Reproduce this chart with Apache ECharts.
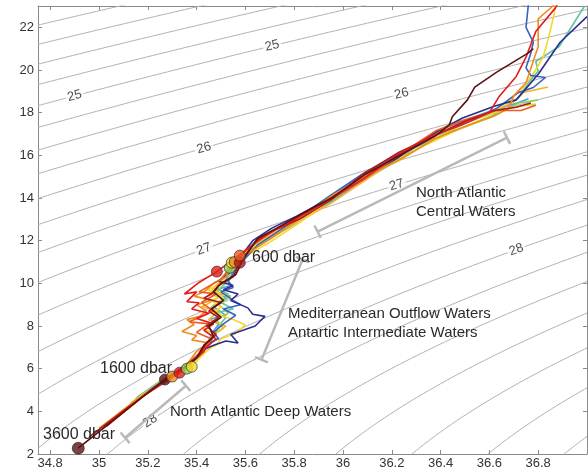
<!DOCTYPE html>
<html>
<head>
<meta charset="utf-8">
<script src="https://cdn.jsdelivr.net/npm/echarts@6/dist/echarts.min.js"></script>
<style>
  html, body { margin: 0; padding: 0; background: #fff; }
  #chart { width: 588px; height: 473px; }
</style>
</head>
<body>
<div id="chart"></div>
<script>
// axis ticks
const xTicks = [34.8, 35, 35.2, 35.4, 35.6, 35.8, 36, 36.2, 36.4, 36.6, 36.8];
const yTicks = [2, 4, 6, 8, 10, 12, 14, 16, 18, 20, 22];

// density contour levels (sigma-theta, kg/m3 - 1000)
const sigmaLevels = [24, 24.25, 24.5, 24.75, 25, 25.25, 25.5, 25.75, 26, 26.25, 26.5, 26.75,
  27, 27.25, 27.5, 27.75, 28, 28.25, 28.5, 28.75, 29, 29.25, 29.5, 29.75];
// labelled contours: [level, salinity where the label sits]
const contourLabels = [[25, 34.90], [25, 35.71], [26, 35.43], [26, 36.24],
  [27, 35.43], [27, 36.22], [28, 35.21], [28, 36.71]];

// profiles: [salinity, potential temperature], deep -> surface
const navy = [[35.02,3.3],[35.14,4.4],[35.25,5.3],[35.33,5.85],[35.39,6.4],[35.43,6.9],[35.47,7.1],[35.52,7.3],[35.57,7.2],[35.54,7.6],[35.59,7.8],[35.64,8.0],[35.68,8.45],[35.63,8.55],[35.61,8.85],[35.54,9.2],[35.57,9.5],[35.51,9.7],[35.55,9.9],[35.49,10.1],[35.53,10.45],[35.57,11.1],
  [35.63,12.0],[35.71,12.6],[35.81,13.15],[35.94,13.95],[36.07,14.85],[36.22,15.85],[36.36,16.95],[36.49,17.75],[36.62,18.3],
  [36.71,18.6],[36.80,19.8],[36.89,21.3],[37.0,22.5]];
const blue = [[35.12,4.2],[35.22,5.1],[35.31,5.8],[35.37,6.3],[35.42,6.8],[35.45,7.2],[35.49,7.4],[35.47,7.7],[35.51,8.1],[35.56,8.5],[35.51,8.8],[35.58,9.0],[35.55,9.2],[35.50,9.6],[35.55,9.8],[35.53,10.1],[35.57,10.8],
  [35.65,11.8],[35.73,12.4],[35.83,13.2],[35.96,14.2],[36.09,15.2],[36.24,16.15],[36.38,16.95],[36.51,17.55],[36.63,18.2],
  [36.72,18.95],[36.78,19.18],[36.83,19.65],[36.77,19.74],[36.75,20.1],[36.77,20.8],[36.78,21.3],[36.75,22.0],[36.76,23.1]];
const lightBlue = [[35.15,4.6],[35.26,5.5],[35.34,6.0],[35.40,6.5],[35.44,7.0],[35.46,7.6],[35.49,8.1],[35.45,8.3],[35.52,8.5],[35.47,8.9],[35.52,9.3],[35.48,9.7],[35.54,9.9],[35.52,10.2],[35.56,10.9],
  [35.64,11.95],[35.72,12.5],[35.82,13.0],[35.95,13.8],[36.08,14.8],[36.23,15.8],[36.37,17.05],[36.50,17.65],[36.62,18.15],
  [36.70,18.4],[36.76,18.65]];
const mint = [[35.16,4.7],[35.27,5.5],[35.35,6.0],[35.41,6.6],[35.45,7.1],[35.47,7.5],[35.49,8.0],[35.52,8.4],[35.47,8.6],[35.55,8.8],[35.50,9.1],[35.53,9.5],[35.49,9.7],[35.51,9.9],[35.54,10.3],[35.55,10.8],
  [35.63,11.6],[35.71,12.15],[35.81,12.95],[35.94,14.05],[36.07,15.05],[36.22,15.95],[36.36,16.7],[36.49,17.3],[36.61,17.85],
  [36.72,18.72],[36.77,19.56],[36.80,19.94],[36.79,20.4],[36.886,21.1],[36.99,23.0]];
const green = [[35.10,4.0],[35.24,5.3],[35.36,6.0],[35.41,6.6],[35.45,7.1],[35.46,7.5],[35.51,7.9],[35.48,8.3],[35.53,8.6],[35.49,9.0],[35.54,9.4],[35.47,9.6],[35.50,9.8],[35.53,10.2],[35.536,10.73],
  [35.62,11.55],[35.70,12.1],[35.80,12.75],[35.93,13.7],[36.06,14.8],[36.21,15.95],[36.35,16.85],[36.48,17.25],[36.61,17.8],
  [36.72,18.45],[36.80,18.6]];
const yellowGreen = [[35.13,4.4],[35.25,5.4],[35.34,5.95],[35.40,6.5],[35.43,7.0],[35.44,7.2],[35.48,7.6],[35.42,7.9],[35.46,8.1],[35.50,8.5],[35.46,8.9],[35.51,9.3],[35.45,9.5],[35.47,9.8],[35.51,10.2],[35.55,10.9],
  [35.64,11.8],[35.72,12.35],[35.82,13.1],[35.95,14.1],[36.08,14.95],[36.23,15.75],[36.37,16.75],[36.50,17.5],[36.62,18.0],
  [36.72,18.3],[36.79,18.4]];
const yellow = [[35.08,3.9],[35.22,5.1],[35.33,5.8],[35.38,6.09],[35.42,6.6],[35.46,7.0],[35.48,7.1],[35.50,7.4],[35.56,7.65],[35.60,8.05],[35.55,8.3],[35.47,8.6],[35.50,8.9],[35.46,9.2],[35.52,9.5],[35.44,9.7],[35.49,9.9],[35.52,10.3],[35.544,10.97],
  [35.63,11.45],[35.71,12.0],[35.81,12.75],[35.94,13.85],[36.07,14.9],[36.22,15.8],[36.36,16.6],[36.49,17.3],[36.60,17.8],
  [36.68,18.6],[36.74,19.2],[36.79,20.0],[36.82,20.6],[36.84,21.4],[36.865,22.6],[36.875,23.2]];
const gold = [[35.05,3.5],[35.20,4.9],[35.31,5.7],[35.37,6.2],[35.41,6.7],[35.44,7.2],[35.47,7.6],[35.52,8.0],[35.45,8.3],[35.49,8.7],[35.42,8.9],[35.44,9.0],[35.50,9.4],[35.47,9.8],[35.51,10.2],[35.54,10.9],
  [35.64,11.85],[35.72,12.4],[35.82,12.9],[35.95,13.75],[36.08,14.75],[36.23,15.9],[36.37,17.0],[36.50,17.55],[36.62,18.1],
  [36.70,18.5],[36.74,18.95],[36.84,19.2]];
const orange = [[35.00,3.2],[35.16,4.6],[35.30,5.63],[35.36,6.2],[35.40,6.8],[35.45,7.2],[35.38,7.35],[35.40,7.55],[35.34,7.74],[35.39,8.07],[35.36,8.3],[35.41,8.44],[35.44,8.7],[35.40,9.0],[35.46,9.2],[35.39,9.4],[35.43,9.6],[35.47,10.0],[35.52,10.3],[35.556,11.0],
  [35.65,11.7],[35.73,12.3],[35.83,13.1],[35.96,14.15],[36.09,15.0],[36.24,15.85],[36.38,16.8],[36.51,17.4],[36.62,17.85],
  [36.68,18.2],[36.70,18.8],[36.75,19.4],[36.80,21.1],[36.80,22.4],[36.86,23.0],[36.88,23.3]];
const orangeRed = [[35.04,3.4],[35.19,4.8],[35.31,5.75],[35.38,6.4],[35.43,6.9],[35.46,7.4],[35.40,7.7],[35.45,8.1],[35.37,8.2],[35.41,8.4],[35.47,8.7],[35.42,9.1],[35.48,9.5],[35.41,9.6],[35.44,9.8],[35.50,10.2],[35.577,11.3],
  [35.65,12.0],[35.73,12.55],[35.83,13.2],[35.96,14.0],[36.09,14.9],[36.24,16.1],[36.38,17.15],[36.51,17.7],[36.63,18.1],
  [36.73,18.1],[36.79,18.35]];
const red = [[35.03,3.3],[35.18,4.7],[35.33,5.81],[35.39,6.4],[35.43,6.8],[35.44,7.0],[35.48,7.4],[35.43,7.8],[35.47,8.1],[35.40,8.35],[35.45,8.6],[35.38,8.8],[35.41,9.09],[35.36,9.14],[35.40,9.6],[35.35,9.5],[35.41,10.04],[35.483,10.55],
  [35.63,11.8],[35.71,12.45],[35.81,13.05],[35.94,13.9],[36.07,14.8],[36.22,16.0],[36.36,16.9],[36.49,17.45],[36.60,18.0],
  [36.64,18.76],[36.71,19.7],[36.75,20.6],[36.79,21.8],[36.87,22.9],[36.89,23.3]];
const darkRed = [[34.96,2.8],[35.12,4.2],[35.27,5.45],[35.35,6.1],[35.41,6.6],[35.44,7.2],[35.48,7.6],[35.44,8.0],[35.49,8.4],[35.45,8.7],[35.50,9.1],[35.43,9.3],[35.46,9.5],[35.49,9.9],[35.55,10.3],[35.577,10.97],
  [35.64,11.95],[35.72,12.5],[35.82,13.0],[35.95,13.9],[36.08,15.1],[36.23,16.15],[36.37,16.9],[36.50,17.6],[36.62,18.1],
  [36.71,18.25],[36.77,18.45]];
const maroon = [[34.915,2.27],[35.05,3.5],[35.17,4.6],[35.27,5.49],[35.34,6.0],[35.40,6.5],[35.43,7.1],[35.47,7.5],[35.45,8.0],[35.50,8.4],[35.46,8.8],[35.51,9.2],[35.47,9.6],[35.50,10.0],[35.56,10.4],[35.59,11.1],
  [35.65,12.1],[35.73,12.6],[35.83,13.25],[35.96,14.05],[36.09,15.1],[36.24,16.05],[36.375,16.88],
  [36.436,17.43],[36.448,17.81],[36.51,18.6],[36.54,19.2],[36.63,19.9],[36.76,20.8],[36.78,21.0]];

// pressure-level markers: [salinity, temperature], with the profile they belong to
const p600 = [[35.483,10.55],[35.536,10.73],[35.544,10.97],[35.556,11.0],[35.577,10.97],[35.577,11.3]];
const p600Owner = ['red', 'green', 'yellow', 'orange', 'darkRed', 'orangeRed'];
const p1600 = [[35.27,5.49],[35.30,5.63],[35.33,5.81],[35.36,6.0],[35.38,6.09]];
const p1600Owner = ['maroon', 'orange', 'red', 'green', 'yellow'];
const p3600 = [[34.915,2.27]];
const p3600Owner = ['maroon'];

const profiles = { lightBlue, mint, green, yellowGreen, gold, yellow, blue, navy, orange, orangeRed, darkRed, red, maroon };
const colors = {
  navy: '#2b2e8e', blue: '#3a60c4', lightBlue: '#4aa3df', mint: '#63c39f', green: '#8fcf5a',
  yellowGreen: '#c6d936', yellow: '#f6d72a', gold: '#f8b52b', orange: '#f08c1e', orangeRed: '#ec5a24',
  red: '#e31c1c', darkRed: '#b3161b', maroon: '#5c1212'
};

const FONT = 'Liberation Sans, Arial, sans-serif';
const AXIS_GRAY = '#8a8a8a';

// UNESCO EOS-80 density at p = 0, minus 1000
function sigma0(S, T) {
  const rw = 999.842594 + 6.793952e-2 * T - 9.095290e-3 * T * T + 1.001685e-4 * T ** 3
    - 1.120083e-6 * T ** 4 + 6.536332e-9 * T ** 5;
  const A = 8.24493e-1 - 4.0899e-3 * T + 7.6438e-5 * T * T - 8.2467e-7 * T ** 3 + 5.3875e-9 * T ** 4;
  const B = -5.72466e-3 + 1.0227e-4 * T - 1.6546e-6 * T * T;
  const C = 4.8314e-4;
  return rw + A * S + B * S ** 1.5 + C * S * S - 1000;
}

// temperature where sigma0(S, T) == sig (bisection)
function tempAt(sig, S) {
  let lo = -2, hi = 35;
  if (sigma0(S, lo) < sig || sigma0(S, hi) > sig) return null;
  for (let i = 0; i < 50; i++) {
    const mid = (lo + hi) / 2;
    if (sigma0(S, mid) > sig) lo = mid; else hi = mid;
  }
  return (lo + hi) / 2;
}

function contourLine(sig) {
  const pts = [];
  for (let k = 0; k <= 225; k++) {
    const S = 34.75 + k * 0.01;
    const T = tempAt(sig, S);
    if (T !== null) pts.push([S, T]);
  }
  return pts;
}

const series = [];
sigmaLevels.forEach(sig => {
  series.push({
    type: 'line', data: contourLine(sig), showSymbol: false, silent: true, z: 1,
    lineStyle: { color: '#b0b0b0', width: 1 }
  });
});

Object.keys(profiles).forEach(name => {
  series.push({
    name, type: 'line', data: profiles[name], showSymbol: false, z: 3,
    lineStyle: { color: colors[name], width: 1.6 }
  });
});

function markerSeries(vals, owners, size) {
  return {
    type: 'scatter', z: 5, symbol: 'circle', symbolSize: size,
    data: vals.map((v, i) => ({ value: v, itemStyle: { color: colors[owners[i]] } })),
    itemStyle: { borderColor: '#222', borderWidth: 0.8 }
  };
}
series.push(markerSeries(p600, p600Owner, 11));
series.push(markerSeries(p1600, p1600Owner, 11));
series.push(markerSeries(p3600, p3600Owner, 12));

// contour labels (rotation filled in after the first layout)
const labelSeriesIndex = series.length;
series.push({
  type: 'scatter', z: 2, symbolSize: 0, silent: true,
  data: contourLabels.map(([lv, S]) => ({ value: [S, tempAt(lv, S)], lv })),
  label: {
    show: true, position: 'inside', color: '#222', fontSize: 13, fontFamily: FONT,
    backgroundColor: '#fff', padding: [0, 2], formatter: p => String(p.data.lv)
  }
});

function axisCommon(ticks) {
  return {
    type: 'value', splitLine: { show: false },
    axisLine: { show: true, onZero: false, lineStyle: { color: AXIS_GRAY, width: 1 } },
    axisTick: { show: true, inside: true, length: 4, customValues: ticks, lineStyle: { color: AXIS_GRAY } }
  };
}

const option = {
  animation: false,
  backgroundColor: '#fff',
  grid: { left: 38, right: 1, top: 6, bottom: 19, containLabel: false },
  xAxis: [
    Object.assign(axisCommon(xTicks), {
      min: 34.75, max: 37, position: 'bottom',
      axisLabel: { customValues: xTicks, color: '#333', fontSize: 13, fontFamily: FONT, margin: 3 }
    }),
    Object.assign(axisCommon(xTicks), { min: 34.75, max: 37, position: 'top', axisLabel: { show: false } })
  ],
  yAxis: [
    Object.assign(axisCommon(yTicks), {
      min: 2, max: 23, position: 'left',
      axisLabel: { customValues: yTicks, color: '#333', fontSize: 13, fontFamily: FONT, margin: 4 }
    }),
    Object.assign(axisCommon(yTicks), { min: 2, max: 23, position: 'right', axisLabel: { show: false } })
  ],
  series
};

const chart = echarts.init(document.getElementById('chart'));
chart.setOption(option);

const px = p => chart.convertToPixel({ xAxisIndex: 0, yAxisIndex: 0 }, p);

// rotate contour labels along their lines
const labelData = contourLabels.map(([lv, S]) => {
  const a = px([S - 0.03, tempAt(lv, S - 0.03)]);
  const b = px([S + 0.03, tempAt(lv, S + 0.03)]);
  const ang = Math.atan2(a[1] - b[1], b[0] - a[0]) * 180 / Math.PI;
  return { value: [S, tempAt(lv, S)], lv, label: { rotate: ang } };
});

// water mass brackets: [start, end] in (salinity, temperature)
const brackets = [
  [[35.896, 12.42], [36.672, 16.83]],
  [[35.666, 6.42], [35.834, 11.11]],
  [[35.107, 2.76], [35.356, 5.20]]
];
const graphic = [];
brackets.forEach(([s, e]) => {
  const a = px(s), b = px(e);
  const dx = b[0] - a[0], dy = b[1] - a[1];
  const len = Math.hypot(dx, dy);
  const nx = -dy / len * 7, ny = dx / len * 7;
  const line = (x1, y1, x2, y2) => ({
    type: 'line', z: 10, silent: true,
    shape: { x1, y1, x2, y2 }, style: { stroke: '#b9b9b9', lineWidth: 2.5 }
  });
  graphic.push(line(a[0], a[1], b[0], b[1]));
  graphic.push(line(a[0] - nx, a[1] - ny, a[0] + nx, a[1] + ny));
  graphic.push(line(b[0] - nx, b[1] - ny, b[0] + nx, b[1] + ny));
});

const texts = [
  ['600 dbar', 252, 258, 16],
  ['1600 dbar', 100, 369, 16],
  ['3600 dbar', 43, 435, 16],
  ['North Atlantic', 416, 193, 15],
  ['Central Waters', 416, 212, 15],
  ['Mediterranean Outflow Waters', 288, 314, 15],
  ['Antartic Intermediate Waters', 288, 333, 15],
  ['North Atlantic Deep Waters', 170, 412, 15]
];
texts.forEach(([t, x, y, fs]) => {
  graphic.push({
    type: 'text', z: 20, silent: true,
    style: { text: t, x, y, fill: '#2a2a2a', font: fs + 'px ' + FONT, verticalAlign: 'middle' }
  });
});

chart.setOption({
  series: series.map((s, i) => i === labelSeriesIndex ? { data: labelData } : {}),
  graphic
});
</script>
</body>
</html>
